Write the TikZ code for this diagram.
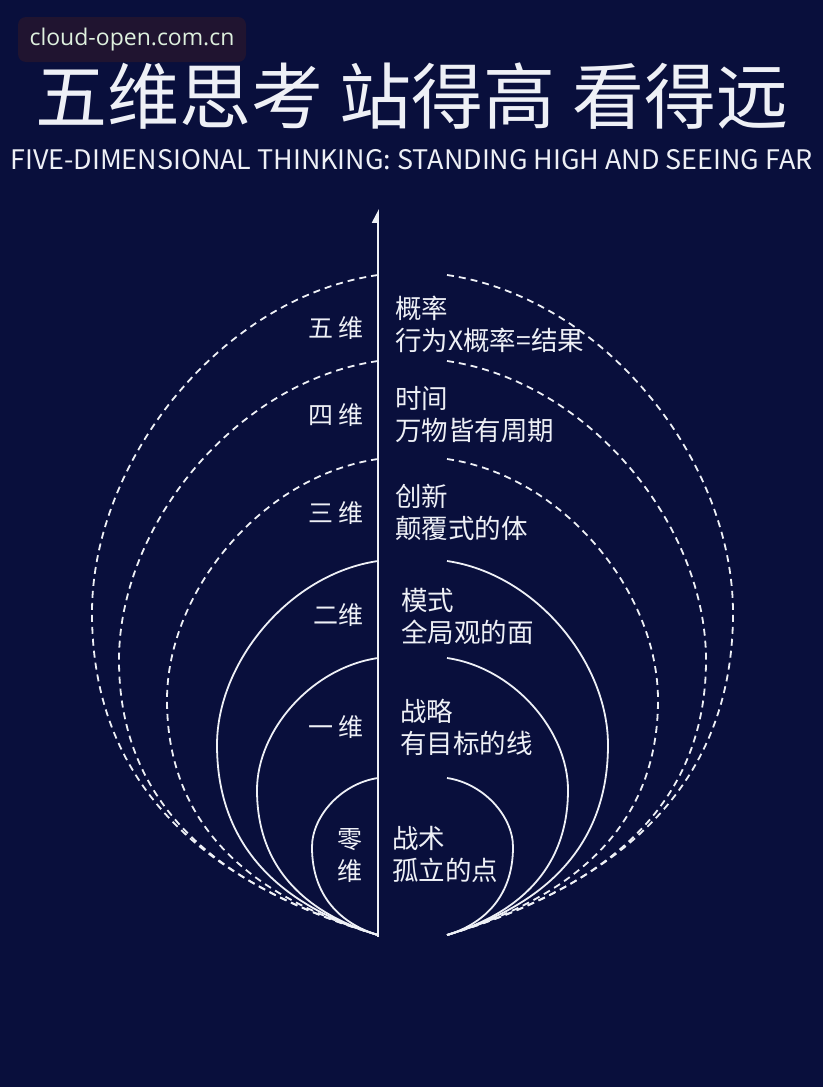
\documentclass[tikz,border=0pt]{standalone}
\usepackage{fontspec}
\setmainfont{Noto Sans CJK SC}
\newfontfamily\webfont{Open Sans}
\usetikzlibrary{arrows.meta}
\definecolor{navy}{RGB}{9,15,60}
\definecolor{tagbg}{RGB}{32,20,48}
\definecolor{tagtext}{RGB}{222,240,222}
\definecolor{ink}{RGB}{238,240,246}
\tikzset{
  solidring/.style={ink, line width=1.8pt},
  dashring/.style={solidring, dash pattern=on 7pt off 5pt},
  dimlbl/.style={anchor=east, inner sep=0pt, text=ink, align=center, font=\fontsize{25}{32}\selectfont},
  notelbl/.style={anchor=west, inner sep=0pt, text=ink, align=left, font=\fontsize{26.5}{32}\selectfont}
}
\begin{document}
\begin{tikzpicture}[x=1pt, y=-1pt]
    \fill[navy] (0,0) rectangle (823,1087);

    \node[fill=tagbg, rounded corners=8pt, minimum width=228pt, minimum height=45pt, text=tagtext, font=\webfont\fontsize{23}{23}\selectfont] (site) at (132,39.5) {cloud-open.com.cn};
    \node[text=ink, font=\fontsize{72}{72}\selectfont] (title) at (412,96) {五维思考 站得高 看得远};
    \node[text=ink, font=\fontsize{26.9}{27}\selectfont] (subtitle) at (411.5,160) {FIVE-DIMENSIONAL THINKING: STANDING HIGH AND SEEING FAR};

    \foreach \s in {1,-1}{
      \begin{scope}[xshift={(1-\s)*412.5pt}, xscale=\s]
        \foreach \yt/\xl/\ym/\kind in {275/92/613/dashring, 361/119/660/dashring, 459/167/700/dashring,
                                       561/217/745/solidring, 658/257/790/solidring, 778/312/847/solidring}{
          \pgfmathsetmacro\ax{378-0.55*(378-\xl)}
          \pgfmathsetmacro\ay{\yt+0.08*(378-\xl)}
          \pgfmathsetmacro\by{\ym-0.45*(\ym-\yt)}
          \pgfmathsetmacro\cy{\ym+0.6*(935-\ym)}
          \pgfmathsetmacro\dx{378-0.5*(378-\xl)}
          \pgfmathsetmacro\dy{935-0.15*(378-\xl)}
          \draw[\kind] (378,\yt) .. controls (\ax,\ay) and (\xl,\by) .. (\xl,\ym)
                       .. controls (\xl,\cy) and (\dx,\dy) .. (378,935);
        }
      \end{scope}
    }

    \coordinate (axisbot) at (378,937);
    \coordinate (axistop) at (378,209);
    \draw[ink, line width=1.8pt, -{Triangle[harpoon, length=12pt, width=12pt]}] (axisbot) -- (axistop);

    \node[dimlbl] (dim5) at (364,328) {五 维};
    \node[dimlbl] (dim4) at (364,415) {四 维};
    \node[dimlbl] (dim3) at (364,513) {三 维};
    \node[dimlbl] (dim2) at (364,615) {二维};
    \node[dimlbl] (dim1) at (364,727) {一 维};
    \node[dimlbl, anchor=center] (dim0) at (350,856) {零\\维};

    \node[notelbl] (note5) at (395,324) {概率\\行为X概率=结果};
    \node[notelbl] (note4) at (395,415) {时间\\万物皆有周期};
    \node[notelbl] (note3) at (395,512) {创新\\颠覆式的体};
    \node[notelbl] (note2) at (401,616) {模式\\全局观的面};
    \node[notelbl] (note1) at (400,727) {战略\\有目标的线};
    \node[notelbl] (note0) at (392,854) {战术\\孤立的点};
\end{tikzpicture}
\end{document}
